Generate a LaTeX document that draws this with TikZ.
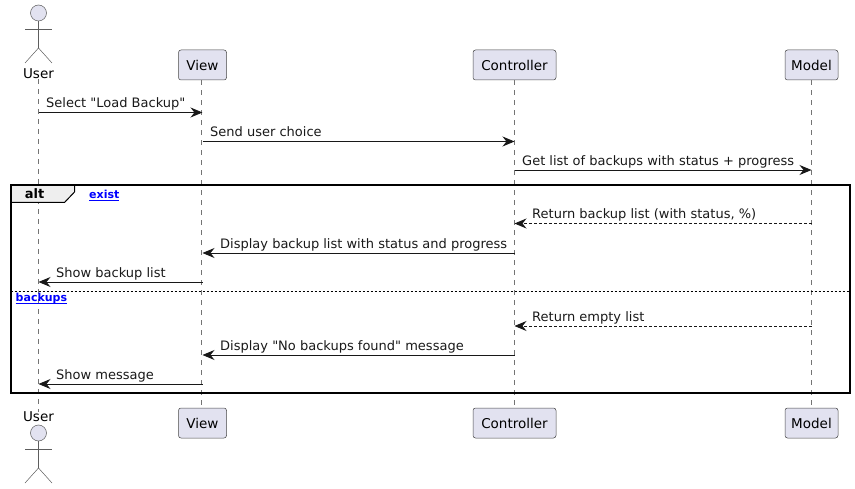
\documentclass[tikz,border=0pt]{standalone}
\usepackage{fontspec}
\setmainfont[Ligatures=TeXOff]{DejaVu Sans}
\usepackage{xcolor}
\usetikzlibrary{arrows.meta}
\definecolor{partfill}{HTML}{E2E2F0}
\definecolor{partline}{HTML}{181818}
\definecolor{tabfill}{HTML}{EEEEEE}
\tikzset{
    part/.style={draw=partline!80, fill=partfill, rounded corners=2.5pt, line width=0.5pt, minimum height=30pt, inner xsep=0pt, inner ysep=0pt, font=\fontsize{13.5}{15}\selectfont, text=black},
    actorname/.style={inner sep=0pt, font=\fontsize{13.5}{15}\selectfont, text=black},
    lifeline/.style={draw=partline!60, line width=0.5pt, dash pattern=on 5pt off 5pt},
    actorline/.style={draw=partline!70, line width=0.5pt},
    msg/.style={draw=partline, line width=0.9pt, -{Stealth[length=12pt, width=10pt, inset=4pt]}},
    reply/.style={msg, densely dashed},
    msgtext/.style={anchor=base west, inner sep=0pt, font=\fontsize{13}{15}\selectfont, text=black!90},
    linktext/.style={anchor=base west, inner sep=0pt, font=\fontsize{11}{12}\selectfont\bfseries, text=blue}
}
\begin{document}
\begin{tikzpicture}[x=1pt, y=-1pt]
    \useasboundingbox (0,0) rectangle (855,489);
    % heads of the lifelines
    \node[actorname] (userTop) at (38.5,74) {User};
    \node[part, minimum width=48pt] (viewTop) at (202.5,65) {View};
    \node[part, minimum width=83pt] (ctrlTop) at (514.5,65) {Controller};
    \node[part, minimum width=53pt] (modelTop) at (811.5,65) {Model};
    \node[actorname] (userBot) at (38.5,417) {User};
    \node[part, minimum width=48pt] (viewBot) at (202.5,423) {View};
    \node[part, minimum width=83pt] (ctrlBot) at (514.5,423) {Controller};
    \node[part, minimum width=53pt] (modelBot) at (811.5,423) {Model};
    % lifelines
    \draw[lifeline] (userTop.south) -- (userBot.north);
    \draw[lifeline] ([xshift=-1pt]viewTop.south) -- ([xshift=-1pt]viewBot.north);
    \draw[lifeline] (ctrlTop.south) -- (ctrlBot.north);
    \draw[lifeline] (modelTop.south) -- (modelBot.north);
    % actors
    \foreach \top/\name in {13/Top, 433/Bot} {
        \node[circle, draw=partline!70, fill=partfill, line width=0.5pt, minimum size=16pt, inner sep=0pt] (head\name) at (38.5,\top) {};
        \coordinate (hip\name) at (38.5,\top+35);
        \draw[actorline] (head\name.south) -- (hip\name);
        \draw[actorline] (25,\top+16) -- (52,\top+16);
        \draw[actorline] (25,\top+50) -- (hip\name) -- (52,\top+50);
    }
    % alt frame
    \draw[line width=1pt, fill=tabfill] (10.5,185.5) -- (74.5,185.5) -- (74.5,192) -- (64.5,202.5) -- (10.5,202.5) -- cycle;
    \draw[line width=2pt] (10.5,185.5) rectangle (849.5,393);
    \node[anchor=base, inner sep=0pt, font=\fontsize{13}{15}\selectfont\bfseries] (altLabel) at (34.5,199) {alt};
    \node[linktext] (existLink) at (89,198.5) {\underline{\smash{exist}}};
    \draw[line width=0.8pt, dash pattern=on 2pt off 2pt] (10.5,291.5) -- (849.5,291.5);
    \node[linktext] (backupsLink) at (15.5,301.5) {\underline{\smash{backups}}};
    % messages
    \foreach \name/\from/\to/\ypos/\style/\tx/\txt in {
        a/userTop/viewTop/112.5/msg/46/{Select "Load Backup"},
        b/viewTop/ctrlTop/141.5/msg/210/{Send user choice},
        c/ctrlTop/modelTop/170/msg/522/{Get list of backups with status + progress},
        d/modelTop/ctrlTop/223.5/reply/532/{Return backup list (with status, \%)},
        e/ctrlTop/viewTop/253/msg/220/{Display backup list with status and progress},
        f/viewTop/userTop/282/msg/56/{Show backup list},
        g/modelTop/ctrlTop/326/reply/532/{Return empty list},
        h/ctrlTop/viewTop/355/msg/220/{Display "No backups found" message},
        i/viewTop/userTop/384/msg/56/{Show message}} {
        \coordinate (\name0) at (\from |- 0,\ypos);
        \coordinate (\name1) at (\to |- 0,\ypos);
        \draw[\style] (\name0) -- (\name1);
        \node[msgtext] (\name2) at (\tx,\ypos-4.5) {\txt};
    }
\end{tikzpicture}
\end{document}
